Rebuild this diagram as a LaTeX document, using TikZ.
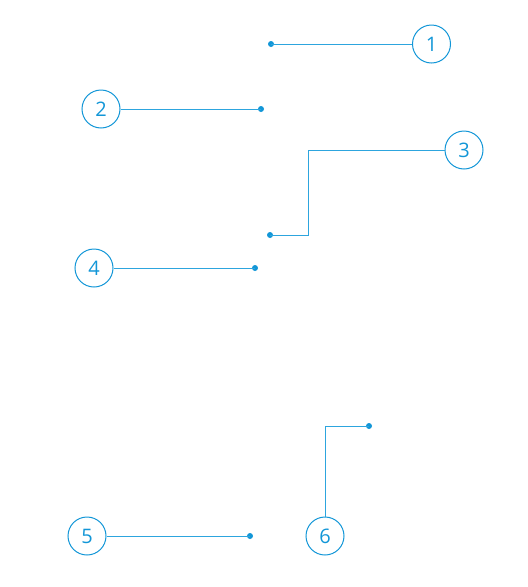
\documentclass[tikz,border=0pt]{standalone}
\usepackage{fontspec}
\setmainfont{Open Sans}
\definecolor{cblue}{RGB}{18,150,215}
\definecolor{lblue}{RGB}{45,165,222}
\tikzset{
  num/.style={circle, draw=cblue, line width=1pt, minimum size=38pt, inner sep=0pt, text=cblue, font=\fontsize{20}{20}\selectfont},
  lead/.style={draw=lblue, line width=1pt},
  pin/.style={circle, fill=cblue, minimum size=6pt, inner sep=0pt},
}
\begin{document}
\begin{tikzpicture}[x=1pt,y=-1pt]
\useasboundingbox (0,0) rectangle (528,587);
\node[num] (c1) at (431.5,44) {1};
\node[num] (c2) at (101,109) {2};
\node[num] (c3) at (464,150) {3};
\node[num] (c4) at (94,268) {4};
\node[num] (c5) at (87,536) {5};
\node[num] (c6) at (325,536) {6};
\node[pin] (p1) at (271,44) {};
\node[pin] (p2) at (261,109) {};
\node[pin] (p3) at (270,235) {};
\node[pin] (p4) at (255,268) {};
\node[pin] (p5) at (250,536) {};
\node[pin] (p6) at (369,426) {};
\coordinate (k3a) at (308,150);
\coordinate (k3b) at (308,235);
\coordinate (k6) at (325,426);
\draw[lead] (p1.center) -- (c1);
\draw[lead] (c2) -- (p2.center);
\draw[lead] (c3) -- (k3a) -- (k3b) -- (p3.center);
\draw[lead] (c4) -- (p4.center);
\draw[lead] (c5) -- (p5.center);
\draw[lead] (c6) -- (k6) -- (p6.center);
\end{tikzpicture}
\end{document}
